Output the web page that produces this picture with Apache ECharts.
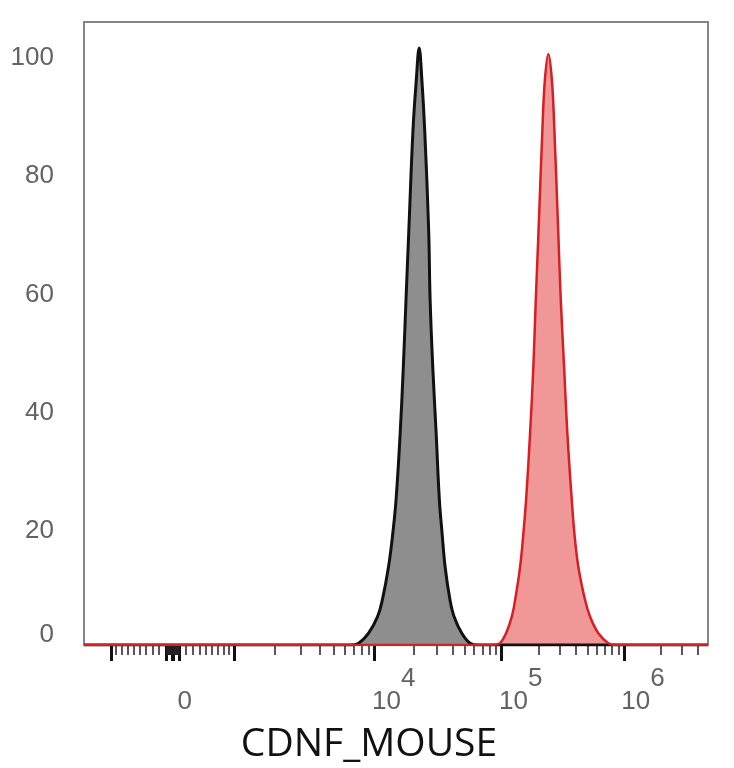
<!DOCTYPE html>
<html>
<head>
<meta charset="utf-8">
<script src="https://cdn.jsdelivr.net/npm/echarts@6.0.0/dist/echarts.min.js"></script>
<style>
html,body{margin:0;padding:0;background:#fff;}
#chart{width:734px;height:768px;}
</style>
</head>
<body>
<div id="chart"></div>
<script>
// 直方图数据（荧光强度, 归一化计数%）
var controlX = [-1600, 6600, 7600, 9000, 10500, 11400, 12700, 13700, 14500, 15600, 16500, 17300, 18200, 19600, 20800, 21900, 23000, 24200, 26000, 26700, 28000, 29800, 31600, 33200, 35100, 38400, 41400, 47700, 55600, 64500, 4900000];
var controlY = [0, 0, 0.3, 2.0, 4.8, 7.6, 13.2, 18.9, 24.5, 35.8, 47.1, 58.4, 70.2, 87.1, 95.6, 101, 95.6, 87.1, 70.2, 58.4, 47.1, 35.8, 24.5, 18.9, 13.2, 7.6, 4.8, 2.0, 0.3, 0, 0];
var stainedX = [-1600, 87000, 97100, 108600, 120900, 128600, 141200, 150200, 158000, 170300, 181200, 189600, 199800, 214600, 225000, 240300, 256600, 269000, 288900, 303400, 322900, 343600, 373300, 392100, 422800, 479700, 527200, 616700, 744800, 861000, 4900000];
var stainedY = [0, 0, 0.3, 2.0, 4.8, 7.6, 13.2, 18.9, 24.5, 35.8, 47.1, 58.4, 70.2, 87.1, 95.6, 100, 95.6, 87.1, 70.2, 58.4, 47.1, 35.8, 24.5, 18.9, 13.2, 7.6, 4.8, 2.0, 0.3, 0, 0];

// 坐标轴
var axisRange = [-1600, 4900000];
var yTicks = [0, 20, 40, 60, 80, 100];
var xLabelTicks = [0, 10000, 100000, 1000000];
var xLabelPowers = ['', '4', '5', '6'];
var majorTicks = [-1000, -100, -10, 10, 100, 1000, 10000, 100000, 1000000];
var minorMults = [2, 3, 4, 5, 6, 7, 8, 9];
var minorDecades = [-100, -10, 10, 100, 1000, 10000, 100000, 1000000];

// 双指数(logicle)刻度：显示值 u -> 数据值
var LC = 195, LP = 3;
function logicleInv(u) {
	var a = Math.abs(u);
	var s = LC * (Math.exp(a) - LP * LP * Math.exp(-a / LP) + LP * LP - 1);
	return u < 0 ? -s : s;
}
// 数据值 -> 显示值（二分法）
function tf(v) {
	var lo = -6, hi = 14;
	for (var i = 0; i < 80; i++) {
		var mid = (lo + hi) / 2;
		if (logicleInv(mid) < v) lo = mid; else hi = mid;
	}
	return (lo + hi) / 2;
}

var minorTicks = [];
minorDecades.forEach(function(d) {
	minorMults.forEach(function(m) {
		var v = d * m;
		if (v > axisRange[0] && v < axisRange[1]) minorTicks.push(tf(v));
	});
});

function pairs(xs, ys) {
	return xs.map(function(x, i) { return [tf(x), ys[i]]; });
}

var labelColor = '#636363';
var fontName = 'Liberation Sans';

var chart = echarts.init(document.getElementById('chart'));
var option = {
	animation: false,
	backgroundColor: '#fff',
	grid: {
		left: 84, right: 26, top: 22, bottom: 123,
		show: true, borderColor: '#858585', borderWidth: 2,
		outerBoundsMode: 'none'
	},
	xAxis: [{
		type: 'value',
		position: 'bottom',
		min: tf(axisRange[0]),
		max: tf(axisRange[1]),
		splitLine: {show: false},
		axisLine: {show: false},
		axisTick: {
			show: true,
			customValues: majorTicks.map(tf),
			length: 16,
			lineStyle: {color: '#111', width: 3}
		},
		axisLabel: {
			show: true,
			customValues: xLabelTicks.map(tf),
			margin: 21,
			formatter: function(val) {
				var idx = 0;
				xLabelTicks.forEach(function(t, i) {
					if (Math.abs(tf(t) - val) < 1e-6) idx = i;
				});
				if (idx === 0) return '{z|0}';
				return '{b|10}{s|' + xLabelPowers[idx] + '}';
			},
			rich: {
				z: {fontSize: 26, color: labelColor, fontFamily: fontName, padding: [23, 0, 23, 24]},
				b: {fontSize: 26, color: labelColor, fontFamily: fontName, padding: [0, 0, 0, 38]},
				s: {fontSize: 26, color: labelColor, fontFamily: fontName, padding: [0, 0, 46, 0]}
			}
		},
		name: 'CDNF_MOUSE',
		nameLocation: 'middle',
		nameGap: 100,
		nameTextStyle: {
			fontFamily: 'Open Sans',
			fontSize: 39,
			color: '#111',
			verticalAlign: 'middle',
			padding: [0, 54, 0, 0]
		}
	}, {
		type: 'value',
		position: 'bottom',
		min: tf(axisRange[0]),
		max: tf(axisRange[1]),
		splitLine: {show: false},
		axisLine: {show: false},
		axisLabel: {show: false},
		axisTick: {
			show: true,
			customValues: minorTicks,
			length: 10,
			lineStyle: {color: '#222', width: 1.5}
		}
	}],
	yAxis: {
		type: 'value',
		min: 0,
		max: 105.4,
		splitLine: {show: false},
		axisLine: {show: false},
		axisTick: {show: false},
		axisLabel: {
			customValues: yTicks,
			margin: 30,
			formatter: function(v) {
				return v === 0 ? '{z|0}' : '{a|' + v + '}';
			},
			rich: {
				a: {fontSize: 26, color: labelColor, fontFamily: fontName, padding: [8, 0, 0, 0]},
				z: {fontSize: 26, color: labelColor, fontFamily: fontName, padding: [0, 0, 20, 0]}
			}
		}
	},
	series: [{
		type: 'line',
		xAxisIndex: 0,
		data: pairs(controlX, controlY),
		smooth: 0.4,
		symbol: 'none',
		lineStyle: {color: '#111', width: 3},
		areaStyle: {color: '#8e8e8e', opacity: 1}
	}, {
		type: 'line',
		xAxisIndex: 0,
		data: pairs(stainedX, stainedY),
		smooth: 0.4,
		symbol: 'none',
		lineStyle: {color: '#d81e25', width: 2.5},
		areaStyle: {color: '#f09797', opacity: 1}
	}]
};
chart.setOption(option);
</script>
</body>
</html>
